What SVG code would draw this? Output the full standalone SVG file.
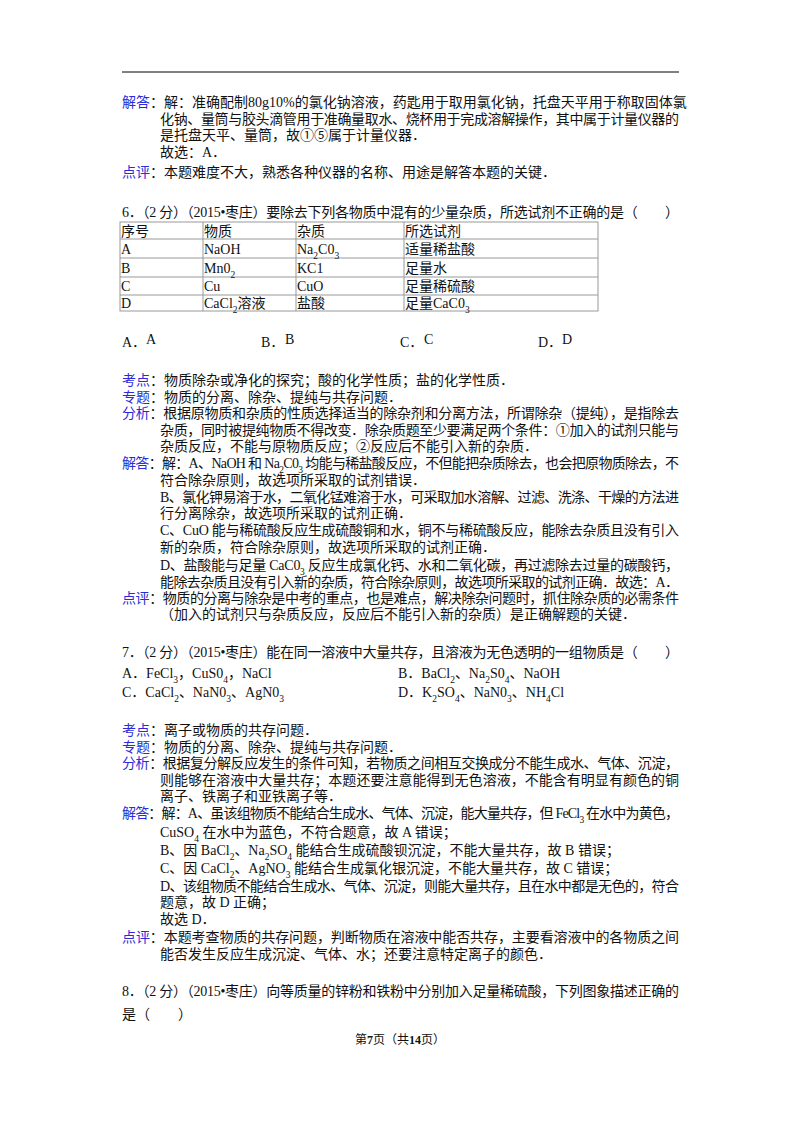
<svg xmlns="http://www.w3.org/2000/svg" width="800" height="1132" viewBox="0 0 800 1132">
<style>
text{font-family:"Liberation Serif","Noto Sans CJK SC",serif;font-size:14px;fill:#111}
.l{fill:#2b2bd8}
.s{font-size:9.5px;baseline-shift:sub}
.t{fill:none;stroke:#999;stroke-width:1}
</style>
<rect width="800" height="1132" fill="#fff"/>
<line x1="122" y1="72" x2="679" y2="72" stroke="#000" stroke-width="1"/>
<g id="q5">
<text x="122" y="107"><tspan class="l">解答</tspan>：解：准确配制80g10%的氯化钠溶液，药匙用于取用氯化钠，托盘天平用于称取固体氯</text>
<text x="160" y="124" textLength="519" lengthAdjust="spacing">化钠、量筒与胶头滴管用于准确量取水、烧杯用于完成溶解操作，其中属于计量仪器的</text>
<text x="160" y="140">是托盘天平、量筒，故①⑤属于计量仪器．</text>
<text x="160" y="157">故选：A．</text>
<text x="122" y="177"><tspan class="l">点评</tspan>：本题难度不大，熟悉各种仪器的名称、用途是解答本题的关键．</text>
</g>
<g id="q6">
<text x="122" y="217" textLength="557" lengthAdjust="spacing">6．（2 分）（2015•枣庄）要除去下列各物质中混有的少量杂质，所选试剂不正确的是（　　）</text>
<rect class="t" x="120" y="222" width="478" height="89"/>
<path class="t" d="M120 239H598M120 258H598M120 277H598M120 295H598M203 222V311M296 222V311M404 222V311"/>
<text x="121" y="236">序号</text><text x="204" y="236">物质</text><text x="297" y="236">杂质</text><text x="405" y="236">所选试剂</text>
<text x="121" y="254">A</text><text x="204" y="254">NaOH</text><text x="297" y="254">Na<tspan class="s">2</tspan>C0<tspan class="s">3</tspan></text><text x="405" y="254">适量稀盐酸</text>
<text x="121" y="273">B</text><text x="204" y="273">Mn0<tspan class="s">2</tspan></text><text x="297" y="273">KC1</text><text x="405" y="273">足量水</text>
<text x="121" y="291">C</text><text x="204" y="291">Cu</text><text x="297" y="291">CuO</text><text x="405" y="291">足量稀硫酸</text>
<text x="121" y="308">D</text><text x="204" y="308">CaCl<tspan class="s">2</tspan>溶液</text><text x="297" y="308">盐酸</text><text x="405" y="308">足量CaC0<tspan class="s">3</tspan></text>
<text x="122" y="347">A．</text><text x="146" y="344">A</text>
<text x="261" y="347">B．</text><text x="285" y="344">B</text>
<text x="400" y="347">C．</text><text x="424" y="344">C</text>
<text x="538" y="347">D．</text><text x="562" y="344">D</text>
</g>
<g id="a6">
<text x="122" y="385"><tspan class="l">考点</tspan>：物质除杂或净化的探究；酸的化学性质；盐的化学性质．</text>
<text x="122" y="402"><tspan class="l">专题</tspan>：物质的分离、除杂、提纯与共存问题．</text>
<text x="122" y="418" textLength="557" lengthAdjust="spacing"><tspan class="l">分析</tspan>：根据原物质和杂质的性质选择适当的除杂剂和分离方法，所谓除杂（提纯），是指除去</text>
<text x="160" y="435" textLength="519" lengthAdjust="spacing">杂质，同时被提纯物质不得改变．除杂质题至少要满足两个条件：①加入的试剂只能与</text>
<text x="160" y="451">杂质反应，不能与原物质反应；②反应后不能引入新的杂质．</text>
<text x="122" y="468" textLength="557" lengthAdjust="spacing"><tspan class="l">解答</tspan>：解：A、NaOH 和 Na<tspan class="s">2</tspan>C0<tspan class="s">3</tspan> 均能与稀盐酸反应，不但能把杂质除去，也会把原物质除去，不</text>
<text x="160" y="485">符合除杂原则，故选项所采取的试剂错误．</text>
<text x="160" y="502" textLength="519" lengthAdjust="spacing">B、氯化钾易溶于水，二氧化锰难溶于水，可采取加水溶解、过滤、洗涤、干燥的方法进</text>
<text x="160" y="518">行分离除杂，故选项所采取的试剂正确．</text>
<text x="160" y="535" textLength="519" lengthAdjust="spacing">C、CuO 能与稀硫酸反应生成硫酸铜和水，铜不与稀硫酸反应，能除去杂质且没有引入</text>
<text x="160" y="552">新的杂质，符合除杂原则，故选项所采取的试剂正确．</text>
<text x="160" y="570" textLength="519" lengthAdjust="spacing">D、盐酸能与足量 CaC0<tspan class="s">3</tspan> 反应生成氯化钙、水和二氧化碳，再过滤除去过量的碳酸钙，</text>
<text x="160" y="587" textLength="519" lengthAdjust="spacing">能除去杂质且没有引入新的杂质，符合除杂原则，故选项所采取的试剂正确．故选：A．</text>
<text x="122" y="603" textLength="557" lengthAdjust="spacing"><tspan class="l">点评</tspan>：物质的分离与除杂是中考的重点，也是难点，解决除杂问题时，抓住除杂质的必需条件</text>
<text x="160" y="619">（加入的试剂只与杂质反应，反应后不能引入新的杂质）是正确解题的关键．</text>
</g>
<g id="q7">
<text x="122" y="657" textLength="557" lengthAdjust="spacing">7．（2 分）（2015•枣庄）能在同一溶液中大量共存，且溶液为无色透明的一组物质是（　　）</text>
<text x="122" y="678">A．FeCl<tspan class="s">3</tspan>，CuS0<tspan class="s">4</tspan>，NaCl</text>
<text x="398" y="678">B．BaCl<tspan class="s">2</tspan>、Na<tspan class="s">2</tspan>S0<tspan class="s">4</tspan>、NaOH</text>
<text x="122" y="697">C．CaCl<tspan class="s">2</tspan>、NaN0<tspan class="s">3</tspan>、AgN0<tspan class="s">3</tspan></text>
<text x="398" y="697">D．K<tspan class="s">2</tspan>SO<tspan class="s">4</tspan>、NaN0<tspan class="s">3</tspan>、NH<tspan class="s">4</tspan>Cl</text>
</g>
<g id="a7">
<text x="122" y="735"><tspan class="l">考点</tspan>：离子或物质的共存问题．</text>
<text x="122" y="752"><tspan class="l">专题</tspan>：物质的分离、除杂、提纯与共存问题．</text>
<text x="122" y="768" textLength="557" lengthAdjust="spacing"><tspan class="l">分析</tspan>：根据复分解反应发生的条件可知，若物质之间相互交换成分不能生成水、气体、沉淀，</text>
<text x="160" y="785" textLength="519" lengthAdjust="spacing">则能够在溶液中大量共存；本题还要注意能得到无色溶液，不能含有明显有颜色的铜</text>
<text x="160" y="801">离子、铁离子和亚铁离子等．</text>
<text x="122" y="818" textLength="557" lengthAdjust="spacing"><tspan class="l">解答</tspan>：解：A、虽该组物质不能结合生成水、气体、沉淀，能大量共存，但 FeCl<tspan class="s">3</tspan> 在水中为黄色，</text>
<text x="160" y="837">CuSO<tspan class="s">4</tspan> 在水中为蓝色，不符合题意，故 A 错误；</text>
<text x="160" y="855">B、因 BaCl<tspan class="s">2</tspan>、Na<tspan class="s">2</tspan>SO<tspan class="s">4</tspan> 能结合生成硫酸钡沉淀，不能大量共存，故 B 错误；</text>
<text x="160" y="873">C、因 CaCl<tspan class="s">2</tspan>、AgNO<tspan class="s">3</tspan> 能结合生成氯化银沉淀，不能大量共存，故 C 错误；</text>
<text x="160" y="891" textLength="519" lengthAdjust="spacing">D、该组物质不能结合生成水、气体、沉淀，则能大量共存，且在水中都是无色的，符合</text>
<text x="160" y="907">题意，故 D 正确；</text>
<text x="160" y="924">故选 D．</text>
<text x="122" y="942" textLength="557" lengthAdjust="spacing"><tspan class="l">点评</tspan>：本题考查物质的共存问题，判断物质在溶液中能否共存，主要看溶液中的各物质之间</text>
<text x="160" y="959">能否发生反应生成沉淀、气体、水；还要注意特定离子的颜色．</text>
</g>
<g id="q8">
<text x="122" y="996" textLength="557" lengthAdjust="spacing">8．（2 分）（2015•枣庄）向等质量的锌粉和铁粉中分别加入足量稀硫酸，下列图象描述正确的</text>
<text x="122" y="1019">是（　　）</text>
</g>
<text x="400" y="1044" text-anchor="middle" style="font-size:12px">第<tspan font-weight="bold">7</tspan>页（共<tspan font-weight="bold">14</tspan>页）</text>
</svg>
